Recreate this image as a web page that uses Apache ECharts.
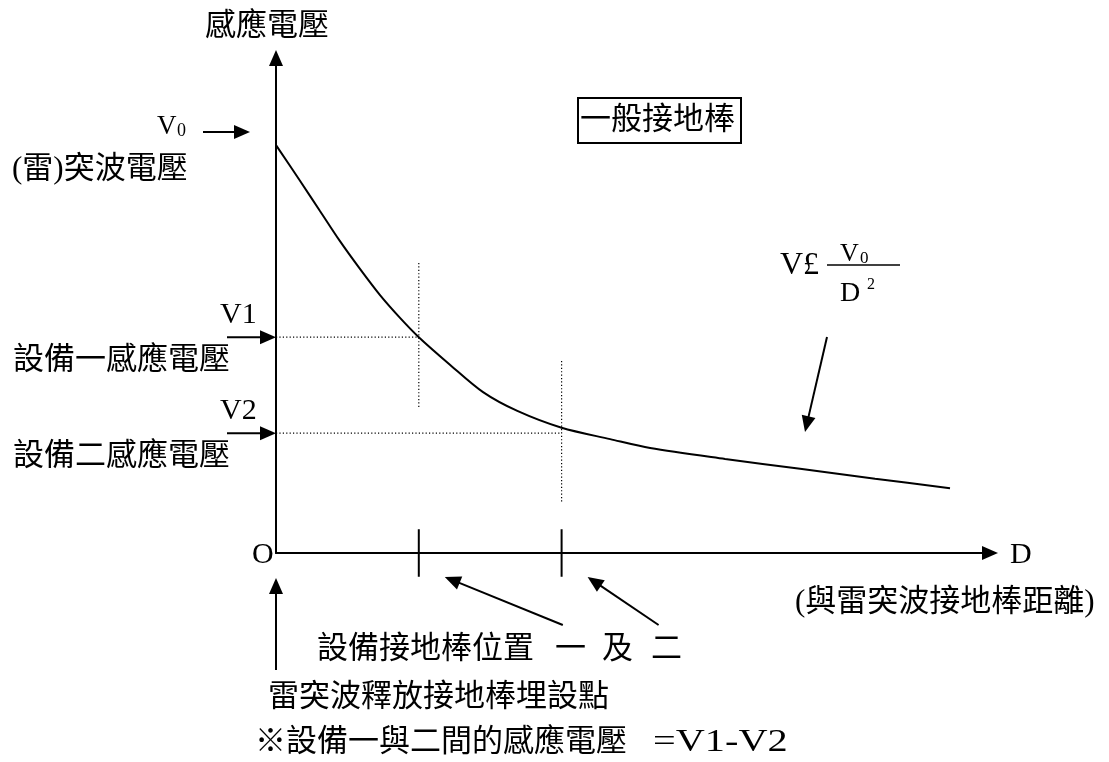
<!DOCTYPE html>
<html><head><meta charset="utf-8">
<script src="https://cdn.jsdelivr.net/npm/echarts@6/dist/echarts.min.js"></script>
<style>html,body{margin:0;padding:0;background:#fff}#c{width:1109px;height:762px}</style>
</head><body><div id="c"></div>
<script>
// ---- data (arbitrary units 0..100) ----
const curveD = [0, 3.36, 6.16, 8.96, 11.76, 14.57, 17.37, 20.0, 24.4, 29.0, 33.8, 40.0, 46.8, 52.4, 62.9, 73.4, 83.9, 94.4];
const curveV = [82.4, 75.2, 69.1, 63.0, 57.4, 52.1, 47.5, 43.6, 38.0, 32.5, 28.7, 25.3, 23.0, 21.2, 19.0, 17.0, 15.0, 13.1];
const rodPositions = [20, 40];          // 設備接地棒位置 一 及 二
const inducedVoltages = [43.6, 24.2];   // V1, V2
const guideTops = [58.6, 38.8];
const guideBottoms = [29.5, 10.3];
const tickHalf = 4.8;
const voltageLabels = ['V1', 'V2'];
const voltageNames = ['設備一感應電壓', '設備二感應電壓'];

const FONT = '"Liberation Serif","Noto Sans CJK TC",serif';
const chart = echarts.init(document.getElementById('c'));

const axisCommon = {
  type: 'value', min: 0, max: 100,
  axisLine: { onZero: false, symbol: ['none', 'triangle'], symbolSize: [14, 16],
    lineStyle: { color: '#000', width: 2 } },
  axisTick: { show: false }, axisLabel: { show: false }, splitLine: { show: false }
};

const series = [{
  type: 'line', smooth: 0.3, symbol: 'none', silent: true,
  data: curveD.map((d, i) => [d, curveV[i]]),
  lineStyle: { color: '#000', width: 2 }
}];
rodPositions.forEach((x, i) => {
  series.push({ type: 'line', symbol: 'none', silent: true,
    data: [[0, inducedVoltages[i]], [x, inducedVoltages[i]]],
    lineStyle: { color: '#000', width: 1.2, type: [1.2, 2.2] } });
  series.push({ type: 'line', symbol: 'none', silent: true,
    data: [[x, guideTops[i]], [x, guideBottoms[i]]],
    lineStyle: { color: '#000', width: 1.2, type: [1.2, 2.2] } });
  series.push({ type: 'line', symbol: 'none', silent: true, clip: false,
    data: [[x, -tickHalf], [x, tickHalf]],
    lineStyle: { color: '#000', width: 2 } });
});

chart.setOption({
  animation: false,
  backgroundColor: '#fff',
  grid: { left: 276, right: 119, top: 58, bottom: 209 },
  xAxis: axisCommon,
  yAxis: axisCommon,
  series
});

function arrow(x1, y1, x2, y2, len = 16, w = 14) {
  const dx = x2 - x1, dy = y2 - y1, L = Math.hypot(dx, dy), ux = dx / L, uy = dy / L;
  const bx = x2 - ux * len, by = y2 - uy * len, px = -uy * w / 2, py = ux * w / 2;
  return [
    { type: 'line', shape: { x1, y1, x2: bx + ux, y2: by + uy }, style: { stroke: '#000', lineWidth: 2 } },
    { type: 'polygon', shape: { points: [[x2, y2], [bx + px, by + py], [bx - px, by - py]] }, style: { fill: '#000' } }
  ];
}
function txt(s, x, y, size, align = 'left') {
  return { type: 'text', x, y, style: { text: s, font: size + 'px ' + FONT, fill: '#000',
    align, verticalAlign: 'middle' } };
}

const O = chart.convertToPixel({ gridIndex: 0 }, [0, 0]);
const els = [];
// y axis title, V0
els.push(txt('感應電壓', 205, 27, 31));
els.push(txt('V', 157, 127, 27), txt('0', 177, 131, 18));
els.push(...arrow(203, 132, 250, 132));
els.push(txt('(雷)突波電壓', 12, 170, 31));
// V1, V2
inducedVoltages.forEach((v, i) => {
  const p = chart.convertToPixel({ gridIndex: 0 }, [0, v]);
  els.push(...arrow(p[0] - 49, p[1], p[0], p[1]));
  els.push(txt(voltageLabels[i], 220, p[1] - 22, 30));
  els.push(txt(voltageNames[i], 13, p[1] + 24, 31));
});
// origin and D
els.push(txt('O', 252, O[1] + 2, 30));
els.push(txt('D', 1010, O[1] + 2, 30));
els.push(txt('(與雷突波接地棒距離)', 795, 603, 31));
// tick arrows
rodPositions.forEach((x, i) => {
  const p = chart.convertToPixel({ gridIndex: 0 }, [x, 0]);
  const start = i === 0 ? [p[0] + 144, p[1] + 72] : [p[0] + 97, p[1] + 72];
  els.push(...arrow(start[0], start[1], p[0] + 26, p[1] + 24));
});
els.push(txt('設備接地棒位置', 317, 650, 31), txt('一', 555, 650, 31), txt('及', 602, 650, 31), txt('二', 651, 650, 31));
// origin arrow
els.push(...arrow(O[0], O[1] + 117, O[0], O[1] + 25));
els.push(txt('雷突波釋放接地棒埋設點', 268, 698, 31));
els.push(txt('※設備一與二間的感應電壓', 255, 743, 31));
const eq = txt('=V1-V2', 653, 743, 31); eq.scaleX = 1.3; els.push(eq);
// boxed label
els.push({ type: 'rect', shape: { x: 578, y: 98, width: 163, height: 45 }, style: { fill: 'none', stroke: '#000', lineWidth: 2 } });
els.push(txt('一般接地棒', 580, 121, 31));
// formula V ∝ V0 / D^2
els.push(txt('V£', 780, 266, 32));
els.push({ type: 'line', shape: { x1: 827, y1: 265, x2: 900, y2: 265 }, style: { stroke: '#000', lineWidth: 1.5 } });
els.push(txt('V', 840, 254, 26), txt('0', 860, 259, 17));
els.push(txt('D', 840, 294, 28), txt('2', 867, 285, 16));
els.push(...arrow(827, 337, 805, 432));

chart.setOption({ graphic: els.map(e => Object.assign({ z: 100 }, e)) });
</script>
</body></html>
